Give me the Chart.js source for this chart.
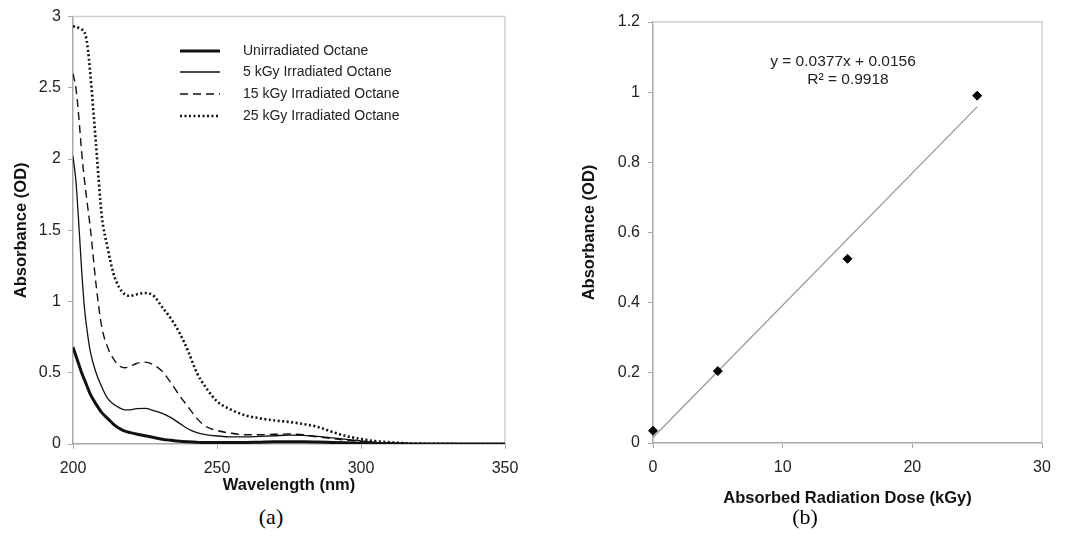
<!DOCTYPE html>
<html>
<head>
<meta charset="utf-8">
<script src="https://cdn.jsdelivr.net/npm/chart.js@4"></script>
<style>
  body { margin: 0; background: #fff; width: 1070px; height: 548px; position: relative; overflow: hidden; }
  canvas { position: absolute; top: 0; }
  #spectra { left: 0; }
  #dose { left: 535px; }
  .cap { position: absolute; top: 504px; font: 22px "Liberation Serif", "Times New Roman", serif; color: #000; transform: translateX(-50%); }
</style>
</head>
<body>
<canvas id="spectra" width="530" height="500"></canvas>
<canvas id="dose" width="535" height="510"></canvas>
<div class="cap" style="left:271px">(a)</div>
<div class="cap" style="left:805px">(b)</div>
<script>
// (a) absorbance spectra
const wavelengths = [200, 201, 202, 203, 204, 205, 206, 208, 210, 212, 214, 216, 218, 220, 222, 225, 228, 231, 234, 237, 240, 243, 246, 250, 255, 260, 265, 270, 275, 280, 285, 290, 295, 300, 305, 310, 315, 320, 330, 340, 350];
const unirradiated = [0.68, 0.62, 0.56, 0.5, 0.45, 0.4, 0.35, 0.28, 0.22, 0.18, 0.14, 0.11, 0.09, 0.08, 0.07, 0.058, 0.045, 0.034, 0.026, 0.019, 0.015, 0.012, 0.01, 0.01, 0.01, 0.011, 0.013, 0.015, 0.016, 0.016, 0.014, 0.011, 0.008, 0.005, 0.003, 0.002, 0.001, 0, 0, 0, 0];
const kgy5 = [2.02, 1.85, 1.55, 1.22, 0.95, 0.78, 0.65, 0.5, 0.4, 0.32, 0.28, 0.255, 0.24, 0.24, 0.248, 0.25, 0.235, 0.215, 0.185, 0.145, 0.105, 0.08, 0.066, 0.056, 0.05, 0.05, 0.054, 0.058, 0.062, 0.06, 0.053, 0.043, 0.032, 0.021, 0.012, 0.006, 0.002, 0, 0, 0, 0];
const kgy15 = [2.6, 2.5, 2.3, 2.05, 1.85, 1.68, 1.52, 1.12, 0.82, 0.68, 0.6, 0.55, 0.535, 0.545, 0.565, 0.575, 0.555, 0.51, 0.43, 0.34, 0.26, 0.18, 0.125, 0.095, 0.075, 0.065, 0.065, 0.068, 0.07, 0.065, 0.05, 0.038, 0.027, 0.017, 0.01, 0.005, 0.002, 0, 0, 0, 0];
const kgy25 = [2.93, 2.93, 2.92, 2.91, 2.89, 2.8, 2.6, 2.1, 1.6, 1.38, 1.2, 1.1, 1.05, 1.04, 1.05, 1.06, 1.04, 0.96, 0.88, 0.78, 0.65, 0.5, 0.4, 0.3, 0.24, 0.2, 0.18, 0.165, 0.155, 0.14, 0.12, 0.085, 0.055, 0.035, 0.02, 0.012, 0.006, 0.003, 0.001, 0, 0];
const spectraLabels = ["Unirradiated Octane", "5 kGy Irradiated Octane", "15 kGy Irradiated Octane", "25 kGy Irradiated Octane"];

// (b) absorbance vs dose
const doses = [0, 5, 15, 25];
const doseAbsorbance = [0.035, 0.205, 0.525, 0.99];
const trendX = [0, 25];
const trendY = [0.0156, 0.958];
const equationLines = ["y = 0.0377x + 0.0156", "R\u00b2 = 0.9918"];

const FONT = "'Liberation Sans', Arial, sans-serif";
const AXIS_GRAY = "#a8a8a8";

function toPoints(xs, ys) {
  return xs.map((x, i) => ({ x: x, y: ys[i] }));
}

const lineStyles = [
  { width: 3, dash: [] },
  { width: 1.3, dash: [] },
  { width: 1.4, dash: [8, 5] },
  { width: 2.6, dash: [2, 2.5] },
];

const frame = {
  id: "frame",
  beforeDatasetsDraw(chart) {
    const { ctx, chartArea: a } = chart;
    ctx.save();
    ctx.strokeStyle = "#cfcfcf";
    ctx.lineWidth = 1.5;
    ctx.beginPath();
    ctx.moveTo(a.left, a.top);
    ctx.lineTo(a.right, a.top);
    ctx.lineTo(a.right, a.bottom);
    ctx.stroke();
    ctx.restore();
  },
};

const spectraLegend = {
  id: "spectraLegend",
  afterDraw(chart) {
    const ctx = chart.ctx;
    ctx.save();
    ctx.font = "14px " + FONT;
    ctx.fillStyle = "#222";
    ctx.textBaseline = "middle";
    const rows = [51, 72, 94, 116];
    chart.data.datasets.forEach((ds, i) => {
      ctx.strokeStyle = "#111";
      ctx.lineWidth = lineStyles[i].width;
      ctx.setLineDash(lineStyles[i].dash);
      ctx.beginPath();
      ctx.moveTo(180, rows[i]);
      ctx.lineTo(220, rows[i]);
      ctx.stroke();
      ctx.fillText(ds.label, 243, rows[i]);
    });
    ctx.restore();
  },
};

const equation = {
  id: "equation",
  afterDraw(chart) {
    const ctx = chart.ctx;
    ctx.save();
    ctx.font = "15.5px " + FONT;
    ctx.fillStyle = "#222";
    ctx.textAlign = "center";
    ctx.textBaseline = "middle";
    ctx.fillText(equationLines[0], 308, 62);
    ctx.fillText(equationLines[1], 313, 80);
    ctx.restore();
  },
};

function axis(min, max, step, title, titlePad, tickPad, fit) {
  return {
    type: "linear",
    min: min,
    max: max,
    ticks: {
      stepSize: step,
      color: "#222",
      font: { family: FONT, size: 16 },
      padding: tickPad,
      callback: (v) => String(Math.round(v * 10) / 10),
    },
    grid: { drawOnChartArea: false, tickLength: 5, color: AXIS_GRAY },
    border: { color: AXIS_GRAY, width: 1.5 },
    title: { display: true, text: title, color: "#111", font: { family: FONT, size: 16.5, weight: "bold" }, padding: { top: titlePad, bottom: titlePad } },
    afterFit: fit,
  };
}

new Chart(document.getElementById("spectra"), {
  type: "line",
  data: {
    datasets: [unirradiated, kgy5, kgy15, kgy25].map((vals, i) => ({
      label: spectraLabels[i],
      data: toPoints(wavelengths, vals),
      borderColor: "#111",
      borderWidth: lineStyles[i].width,
      borderDash: lineStyles[i].dash,
      pointRadius: 0,
      cubicInterpolationMode: "monotone",
      fill: false,
    })),
  },
  options: {
    responsive: false,
    animation: false,
    layout: { padding: { top: 16, right: 25, left: 0, bottom: 0 } },
    plugins: { legend: { display: false }, tooltip: { enabled: false } },
    scales: {
      x: axis(200, 350, 50, "Wavelength (nm)", 5, 10, (s) => { s.height = 56; }),
      y: axis(0, 3, 0.5, "Absorbance (OD)", 12, 7, (s) => { s.width = 73; }),
    },
  },
  plugins: [frame, spectraLegend],
});

new Chart(document.getElementById("dose"), {
  type: "scatter",
  data: {
    datasets: [
      {
        label: "Absorbance",
        data: toPoints(doses, doseAbsorbance),
        pointStyle: "rectRot",
        pointRadius: 4.5,
        backgroundColor: "#000",
        borderColor: "#000",
        showLine: false,
        clip: false,
      },
      {
        label: "Linear fit",
        data: toPoints(trendX, trendY),
        showLine: true,
        borderColor: "#9a9a9a",
        borderWidth: 1.3,
        pointRadius: 0,
      },
    ],
  },
  options: {
    responsive: false,
    animation: false,
    layout: { padding: { top: 22, right: 28, left: 0, bottom: 0 } },
    plugins: { legend: { display: false }, tooltip: { enabled: false } },
    scales: {
      x: axis(0, 30, 10, "Absorbed Radiation Dose (kGy)", 2, 10, (s) => { s.height = 67; }),
      y: axis(0, 1.2, 0.2, "Absorbance (OD)", 45, 8, (s) => { s.width = 118; }),
    },
  },
  plugins: [frame, equation],
});
</script>
</body>
</html>
